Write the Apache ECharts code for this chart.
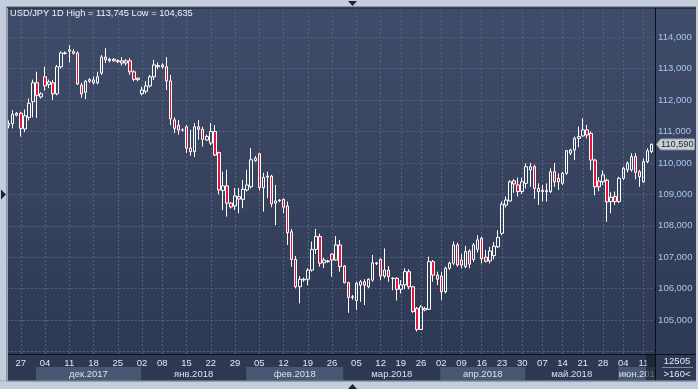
<!DOCTYPE html>
<html><head><meta charset="utf-8">
<script src="https://cdn.jsdelivr.net/npm/echarts@6/dist/echarts.min.js"></script>
<style>html,body{margin:0;padding:0;background:#c3cddb;overflow:hidden}#c{width:698px;height:389px}</style>
</head><body><div id="c"></div>
<script>
const titleText = 'USD/JPY 1D High = 113,745 Low = 104,635';
const lastPriceLabel = '110,590';
const counterTop = '12505';
const counterBottom = '>160<';
const monthNames = ['янв','фев','мар','апр','май','июн','июл','авг','сен','окт','ноя','дек'];

const dates = [
'2017-11-23','2017-11-24','2017-11-26','2017-11-27','2017-11-28','2017-11-29','2017-11-30','2017-12-01','2017-12-03','2017-12-04',
'2017-12-05','2017-12-06','2017-12-07','2017-12-08','2017-12-10','2017-12-11','2017-12-12','2017-12-13','2017-12-14','2017-12-15',
'2017-12-17','2017-12-18','2017-12-19','2017-12-20','2017-12-21','2017-12-22','2017-12-24','2017-12-25','2017-12-26','2017-12-27',
'2017-12-28','2017-12-29','2017-12-31','2018-01-02','2018-01-03','2018-01-04','2018-01-05','2018-01-07','2018-01-08','2018-01-09',
'2018-01-10','2018-01-11','2018-01-12','2018-01-14','2018-01-15','2018-01-16','2018-01-17','2018-01-18','2018-01-19','2018-01-21',
'2018-01-22','2018-01-23','2018-01-24','2018-01-25','2018-01-26','2018-01-28','2018-01-29','2018-01-30','2018-01-31','2018-02-01',
'2018-02-02','2018-02-04','2018-02-05','2018-02-06','2018-02-07','2018-02-08','2018-02-09','2018-02-11','2018-02-12','2018-02-13',
'2018-02-14','2018-02-15','2018-02-16','2018-02-18','2018-02-19','2018-02-20','2018-02-21','2018-02-22','2018-02-23','2018-02-25',
'2018-02-26','2018-02-27','2018-02-28','2018-03-01','2018-03-02','2018-03-04','2018-03-05','2018-03-06','2018-03-07','2018-03-08',
'2018-03-09','2018-03-11','2018-03-12','2018-03-13','2018-03-14','2018-03-15','2018-03-16','2018-03-19','2018-03-20','2018-03-21',
'2018-03-22','2018-03-23','2018-03-26','2018-03-27','2018-03-28','2018-03-29','2018-03-30','2018-04-02','2018-04-03','2018-04-04',
'2018-04-05','2018-04-06','2018-04-09','2018-04-10','2018-04-11','2018-04-12','2018-04-13','2018-04-16','2018-04-17','2018-04-18',
'2018-04-19','2018-04-20','2018-04-23','2018-04-24','2018-04-25','2018-04-26','2018-04-27','2018-04-30','2018-05-01','2018-05-02',
'2018-05-03','2018-05-04','2018-05-07','2018-05-08','2018-05-09','2018-05-10','2018-05-11','2018-05-14','2018-05-15','2018-05-16',
'2018-05-17','2018-05-18','2018-05-21','2018-05-22','2018-05-23','2018-05-24','2018-05-25','2018-05-28','2018-05-29','2018-05-30',
'2018-05-31','2018-06-01','2018-06-04','2018-06-05','2018-06-06','2018-06-07','2018-06-08','2018-06-11','2018-06-12','2018-06-13'
];
const opens = [
111.20,111.25,111.58,111.58,111.08,111.45,111.95,112.55,112.10,112.74,
112.50,112.55,112.20,113.06,113.50,113.55,113.54,113.50,112.48,112.25,
112.60,112.55,112.55,112.86,113.37,113.25,113.30,113.25,113.25,113.18,
113.25,112.90,112.70,112.20,112.28,112.45,112.74,113.10,113.12,113.06,
112.61,111.37,111.20,111.05,111.15,110.47,110.36,111.15,111.07,110.73,
110.63,111.00,110.33,109.12,109.27,108.72,108.63,108.93,108.84,109.14,
109.24,110.07,110.29,109.21,109.55,109.58,108.72,108.80,108.84,108.63,
107.81,106.93,106.06,106.28,106.30,106.59,107.25,107.66,106.82,106.86,
107.10,106.91,107.39,106.72,106.19,105.72,105.62,106.11,106.22,106.06,
106.27,106.80,106.93,106.40,106.59,106.32,106.33,105.98,106.12,106.54,
106.06,105.37,104.70,105.37,105.34,106.86,106.43,106.40,105.90,106.65,
106.81,107.39,106.91,106.70,107.20,106.93,107.25,107.60,107.00,106.88,
107.05,107.33,107.76,108.66,108.79,109.43,109.30,109.09,109.35,109.78,
109.88,109.19,109.09,109.09,109.09,109.72,109.51,109.35,109.67,110.31,
110.41,110.78,110.86,111.05,110.94,110.09,109.42,109.40,109.45,108.77,
108.93,108.77,109.51,109.78,109.78,110.20,109.72,109.40,110.04,110.36
];
const closes = [
111.25,111.55,111.52,111.10,111.50,111.90,112.55,112.15,112.20,112.45,
112.58,112.20,113.06,113.50,113.48,113.60,113.49,112.51,112.20,112.60,
112.65,112.64,112.74,113.37,113.28,113.30,113.25,113.22,113.18,113.25,
112.90,112.66,112.65,112.32,112.45,112.74,113.12,113.06,113.06,112.61,
111.40,111.10,111.05,111.05,110.47,110.36,111.15,111.07,110.75,110.84,
111.00,110.25,109.14,109.27,108.72,108.60,108.95,108.85,109.16,109.30,
110.10,110.15,109.22,109.54,109.58,108.70,108.79,108.82,108.59,107.78,
106.93,106.06,106.30,106.30,106.59,107.25,107.66,106.81,106.91,106.88,
106.91,107.39,106.70,106.19,105.72,105.74,106.17,106.22,106.11,106.30,
106.82,106.82,106.40,106.59,106.38,106.33,105.98,106.12,106.54,106.06,
105.27,104.70,105.42,105.32,106.86,106.43,106.30,105.90,106.65,106.81,
107.39,106.75,106.75,107.18,106.78,107.39,107.55,106.95,106.87,107.20,
107.35,107.63,108.69,108.82,109.40,109.33,109.09,109.40,109.88,109.88,
109.19,109.09,109.13,109.12,109.72,109.40,109.40,109.67,110.39,110.41,
110.78,110.84,111.05,110.89,110.09,109.24,109.24,109.62,108.76,108.91,
108.77,109.51,109.83,109.99,110.20,109.70,109.56,110.04,110.39,110.59
];
const highs = [
111.35,111.68,111.62,111.63,111.70,112.05,112.65,112.90,112.25,113.06,
112.65,112.64,113.12,113.55,113.55,113.745,113.62,113.55,112.55,112.64,
112.70,112.75,112.90,113.43,113.65,113.35,113.33,113.30,113.37,113.30,
113.33,112.95,112.72,112.42,112.60,112.80,113.28,113.20,113.17,113.37,
112.80,111.45,111.37,111.10,111.20,111.05,111.27,111.37,111.15,110.90,
111.27,111.20,110.36,109.72,109.78,108.75,109.20,109.20,109.46,109.78,
110.47,110.22,110.32,109.69,109.72,109.62,109.30,108.85,108.87,108.77,
107.90,107.04,106.40,106.35,106.65,107.50,107.90,107.75,106.98,106.92,
107.12,107.67,107.55,106.75,106.22,105.80,106.22,106.27,106.30,106.33,
107.07,106.85,106.96,107.28,106.72,106.36,106.36,106.27,106.65,106.62,
106.08,105.42,105.47,105.42,107.02,106.91,106.54,106.54,106.70,106.86,
107.50,107.46,107.10,107.36,107.25,107.45,107.70,107.65,107.23,107.33,
107.48,107.86,108.77,108.93,109.45,109.48,109.53,109.53,109.99,110.00,
109.94,109.35,109.30,109.35,109.83,110.00,109.67,109.72,110.41,110.45,
110.84,111.16,111.42,111.21,111.00,110.13,109.55,109.76,109.50,109.07,
109.09,109.56,109.88,110.05,110.31,110.31,109.78,110.14,110.47,110.62
];
const lows = [
111.10,111.10,111.48,110.84,110.98,111.35,111.45,111.43,112.05,112.30,
112.38,112.00,112.15,113.00,113.45,113.20,113.45,112.48,112.07,112.03,
112.55,112.50,112.50,112.80,113.18,113.20,113.22,113.18,113.10,113.10,
112.80,112.60,112.60,112.15,112.20,112.40,112.64,112.98,113.00,112.32,
111.20,110.95,110.90,111.00,110.32,110.23,110.19,110.74,110.52,110.70,
110.57,110.22,109.00,108.50,108.29,108.55,108.50,108.40,108.56,109.09,
109.19,110.04,109.12,108.45,108.88,108.59,108.02,108.75,108.40,107.39,
106.70,106.01,105.53,106.22,106.11,106.54,107.10,106.70,106.65,106.82,
106.38,106.89,106.54,106.17,105.23,105.65,105.32,105.58,105.48,106.01,
106.22,106.75,106.27,106.33,106.22,105.95,105.62,105.85,105.98,105.98,
105.23,104.635,104.68,105.28,105.32,106.22,106.11,105.64,105.85,106.60,
106.75,106.70,106.65,106.65,106.65,106.85,107.15,106.80,106.83,106.80,
106.93,107.30,107.70,108.58,108.77,109.05,108.93,109.01,109.19,109.24,
108.86,108.66,108.77,108.77,109.04,109.24,109.14,109.30,109.62,110.25,
110.09,110.50,110.84,110.78,109.77,108.97,109.10,109.30,108.13,108.40,
108.66,108.72,109.46,109.70,109.72,109.48,109.24,109.37,109.99,110.31
];

const FONT = "'Liberation Sans',Arial,sans-serif";
const FS = 9.5;
const GRID = '#56637f';
const BG_STOPS = [{offset: 0, color: '#404d6a'}, {offset: 1, color: '#2c3752'}];

// first weekday bar of each week -> day label + vertical grid line
const weekStarts = [];
let prevWeek = null;
dates.forEach((d, i) => {
  const dt = new Date(d + 'T00:00:00Z');
  const wd = dt.getUTCDay();
  if (wd === 0 || wd === 6) return;
  const mon = new Date(dt.getTime() - ((wd + 6) % 7) * 86400000).toISOString().slice(0, 10);
  if (prevWeek !== null && mon !== prevWeek) weekStarts.push(i);
  prevWeek = mon;
});
const weekSet = new Set(weekStarts);
const monthStarts = [];
dates.forEach((d, i) => { if (i === 0 || d.slice(0, 7) !== dates[i - 1].slice(0, 7)) monthStarts.push(i); });

const candleData = dates.map((d, i) => [opens[i], closes[i], lows[i], highs[i]]);

const chart = echarts.init(document.getElementById('c'), null, {renderer: 'canvas', width: 698, height: 389});
chart.setOption({
  animation: false,
  backgroundColor: new echarts.graphic.LinearGradient(0, 0, 0, 1, BG_STOPS),
  title: {text: titleText, left: 10, top: 9, padding: 0,
    textStyle: {color: '#eef2f8', fontSize: 9.3, fontWeight: 'normal', fontFamily: FONT}},
  grid: {left: 6.6, top: 8, width: 647, height: 346},
  xAxis: {
    type: 'category', data: dates, boundaryGap: true,
    axisLine: {show: false}, axisTick: {show: false}, splitLine: {show: false},
    axisLabel: {interval: (i) => weekSet.has(i), formatter: (v) => v.slice(8, 10),
      color: '#dfe7f4', fontSize: FS, fontFamily: FONT, margin: 4, hideOverlap: false}
  },
  yAxis: {
    type: 'value', position: 'right', offset: 1.5,
    min: 103.92, max: 114.93, minInterval: 1, maxInterval: 1,
    axisLine: {show: false}, axisTick: {show: false},
    splitLine: {show: true, lineStyle: {color: GRID, type: [2, 2], width: 1}},
    axisLabel: {color: '#a8c6ef', fontSize: FS, fontFamily: FONT, margin: 3,
      showMinLabel: false, showMaxLabel: false,
      formatter: (v) => (Math.abs(v - Math.round(v)) < 1e-6 && v > 104.5) ? v.toFixed(3).replace('.', ',') : ''}
  },
  series: [{
    type: 'candlestick', data: candleData, barWidth: 3,
    itemStyle: {color: 'rgba(0,0,0,0)', color0: '#e3163e', borderColor: '#ffffff', borderColor0: '#ffffff',
      borderColorDoji: '#ffffff', borderWidth: 1},
    emphasis: {disabled: true},
    markLine: {silent: true, z: 1, animation: false, symbol: ['none', 'none'], label: {show: false},
      lineStyle: {color: GRID, type: [2, 2], width: 1}, emphasis: {disabled: true},
      data: weekStarts.map((i) => ({xAxis: dates[i]}))}
  }]
});

// decorations placed with the library's own scales
const px = (i) => chart.convertToPixel({xAxisIndex: 0}, dates[i]);
const els = [];
const FRAME = '#c3cddb';
const AXIS_X = 655;
monthStarts.forEach((si, k) => {
  const start = k === 0 ? 8 : px(si) - 1;
  const end = k < monthStarts.length - 1 ? px(monthStarts[k + 1]) - 1 : AXIS_X;
  const m = +dates[si].slice(5, 7) - 1;
  const w = end - start;
  if (m % 2 === 1) els.push({type: 'rect', z: 1, shape: {x: start, y: 367, width: w, height: 13.5}, style: {fill: '#4a5773'}});
  if (w >= 34) {
    const narrow = w < 60;
    els.push({type: 'text', z: 2, x: narrow ? start + 0.5 : (start + end) / 2, y: 374,
      style: {text: monthNames[m] + '.' + dates[si].slice(0, 4), fill: '#d9e1ee', fontSize: FS, fontFamily: FONT,
        align: narrow ? 'left' : 'center', verticalAlign: 'middle'}});
  }
});
// counter cell background (hides anything spilling right of the price axis line)
els.push({type: 'rect', z: 30, shape: {x: AXIS_X, y: 354.5, width: 42, height: 27},
  style: {fill: new echarts.graphic.LinearGradient(0, 0, 0, 389, BG_STOPS, true)}});
// frame
els.push({type: 'rect', z: 50, shape: {x: 0, y: 0, width: 698, height: 6.5}, style: {fill: FRAME}});
els.push({type: 'rect', z: 50, shape: {x: 0, y: 6.5, width: 698, height: 1}, style: {fill: '#98a3b4'}});
els.push({type: 'rect', z: 50, shape: {x: 0, y: 7.5, width: 698, height: 1}, style: {fill: '#0e121a'}});
els.push({type: 'rect', z: 50, shape: {x: 0, y: 0, width: 6.5, height: 389}, style: {fill: FRAME}});
els.push({type: 'rect', z: 50, shape: {x: 6.5, y: 8, width: 1.5, height: 373}, style: {fill: '#9aa5b6'}});
els.push({type: 'rect', z: 50, shape: {x: 0, y: 380.5, width: 698, height: 1}, style: {fill: '#9aa5b6'}});
els.push({type: 'rect', z: 50, shape: {x: 0, y: 381.5, width: 698, height: 8}, style: {fill: FRAME}});
els.push({type: 'rect', z: 50, shape: {x: 696, y: 0, width: 2, height: 389}, style: {fill: FRAME}});
// axis lines
els.push({type: 'rect', z: 40, shape: {x: 8, y: 354, width: 688, height: 1}, style: {fill: '#0b0f16'}});
els.push({type: 'rect', z: 40, shape: {x: AXIS_X, y: 8, width: 1, height: 373}, style: {fill: '#0b0f16'}});
// markers on the frame
els.push({type: 'polygon', z: 55, shape: {points: [[348, 1], [357, 1], [352.5, 6]]}, style: {fill: '#1c2436'}});
els.push({type: 'polygon', z: 55, shape: {points: [[348, 389], [357, 389], [352.5, 384]]}, style: {fill: '#1c2436'}});
els.push({type: 'polygon', z: 55, shape: {points: [[1, 189.5], [1, 199.5], [6, 194.5]]}, style: {fill: '#1c2436'}});
// darker cell over the last bars in the time scale
els.push({type: 'rect', z: 45, shape: {x: 646, y: 355, width: 9, height: 25.5}, style: {fill: 'rgba(20,27,42,0.6)'}});
// counter box
els.push({type: 'text', z: 45, x: 677, y: 361.5, style: {text: counterTop, fill: '#e2e8f2', fontSize: FS, fontFamily: FONT, align: 'center', verticalAlign: 'middle'}});
els.push({type: 'rect', z: 45, shape: {x: 662, y: 367, width: 31, height: 1}, style: {fill: '#7f8ca3'}});
els.push({type: 'text', z: 45, x: 677, y: 374.5, style: {text: counterBottom, fill: '#e2e8f2', fontSize: FS, fontFamily: FONT, align: 'center', verticalAlign: 'middle'}});
// last price tag
const yLast = chart.convertToPixel({yAxisIndex: 0}, closes[closes.length - 1]);
els.push({type: 'polygon', z: 60, shape: {points: [[656.5, yLast], [660.5, yLast - 5.5], [694.5, yLast - 5.5], [694.5, yLast + 5.5], [660.5, yLast + 5.5]]},
  style: {fill: '#c9cdd4', stroke: '#8e96a4', lineWidth: 1}});
els.push({type: 'text', z: 61, x: 661, y: yLast, style: {text: lastPriceLabel, fill: '#1d2230', fontSize: 9.2, fontFamily: FONT, align: 'left', verticalAlign: 'middle'}});
chart.setOption({graphic: {elements: els}});
</script>
</body></html>
